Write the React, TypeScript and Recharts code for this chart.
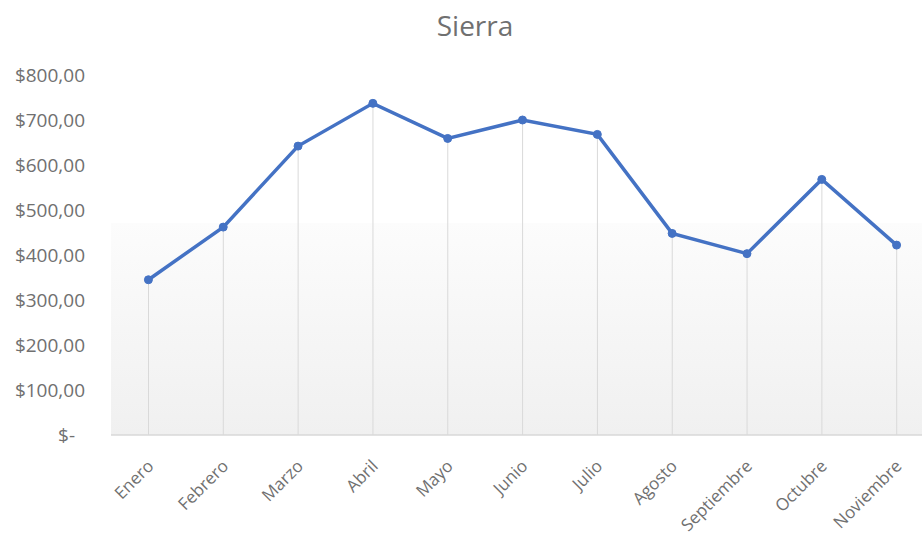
import { ComposedChart, Line, Bar, XAxis, YAxis, CartesianGrid } from 'recharts'

const MONTHS = ['Enero', 'Febrero', 'Marzo', 'Abril', 'Mayo', 'Junio', 'Julio', 'Agosto', 'Septiembre', 'Octubre', 'Noviembre']
const SALES = [345, 462, 642, 737, 659, 700, 668, 448, 403, 568, 422]
const Y_TICKS = [0, 100, 200, 300, 400, 500, 600, 700, 800]

const data = MONTHS.map((m, i) => ({ month: m, value: SALES[i] }))

const FONT = '"Open Sans", Lato, sans-serif'
const TEXT = '#707070'
const BLUE = '#4472C4'

function formatMoney(v: number) {
  if (v === 0) return '$-'
  return `$${v.toFixed(2).replace('.', ',')}`
}

function YTick({ x, y, payload }: any) {
  const zero = payload.value === 0
  return (
    <text x={x - (zero ? 10 : 0)} y={y} dy="0.35em" textAnchor="end" fill={TEXT} fontSize={19} fontFamily={FONT}>
      {formatMoney(payload.value)}
    </text>
  )
}

function XTick({ x, y, payload }: any) {
  return (
    <g transform={`translate(${x + 2},${y + 26})`}>
      <text textAnchor="end" dy="0.35em" transform="rotate(-45)" fill={TEXT} fontSize={17} fontFamily={FONT}>
        {payload.value}
      </text>
    </g>
  )
}

export default function App() {
  return (
    <div style={{ position: 'absolute', left: 0, top: 0, width: 922, height: 536, overflow: 'hidden', background: '#fff' }}>
      <div
        style={{
          position: 'absolute', left: 0, top: 11, width: 950, textAlign: 'center',
          fontFamily: FONT, fontSize: 28, lineHeight: '28px', color: TEXT,
        }}
      >
        Sierra
      </div>
      <ComposedChart width={950} height={536} data={data} margin={{ top: 75, right: 16, left: 0, bottom: 0 }}>
        <defs>
          <linearGradient id="plotBg" x1="0" y1="0" x2="0" y2="1">
            <stop offset="0" stopColor="#ffffff" />
            <stop offset="0.41" stopColor="#ffffff" />
            <stop offset="0.412" stopColor="#fcfcfc" />
            <stop offset="1" stopColor="#f0f0f0" />
          </linearGradient>
        </defs>
        <CartesianGrid horizontal={false} vertical={false} fill="url(#plotBg)" />
        <XAxis
          dataKey="month"
          height={101}
          interval={0}
          tick={<XTick />}
          tickLine={false}
          tickSize={0}
          axisLine={{ stroke: '#d9d9d9', strokeWidth: 1.5 }}
        />
        <YAxis
          width={111}
          domain={[0, 800]}
          ticks={Y_TICKS}
          tick={<YTick />}
          tickLine={false}
          axisLine={false}
          tickSize={0}
          tickMargin={26}
        />
        <Bar dataKey="value" barSize={1} fill="#d9d9d9" isAnimationActive={false} />
        <Line
          dataKey="value"
          type="linear"
          stroke={BLUE}
          strokeWidth={3.5}
          dot={{ r: 4, fill: BLUE, stroke: BLUE, strokeWidth: 1 }}
          isAnimationActive={false}
        />
      </ComposedChart>
    </div>
  )
}
